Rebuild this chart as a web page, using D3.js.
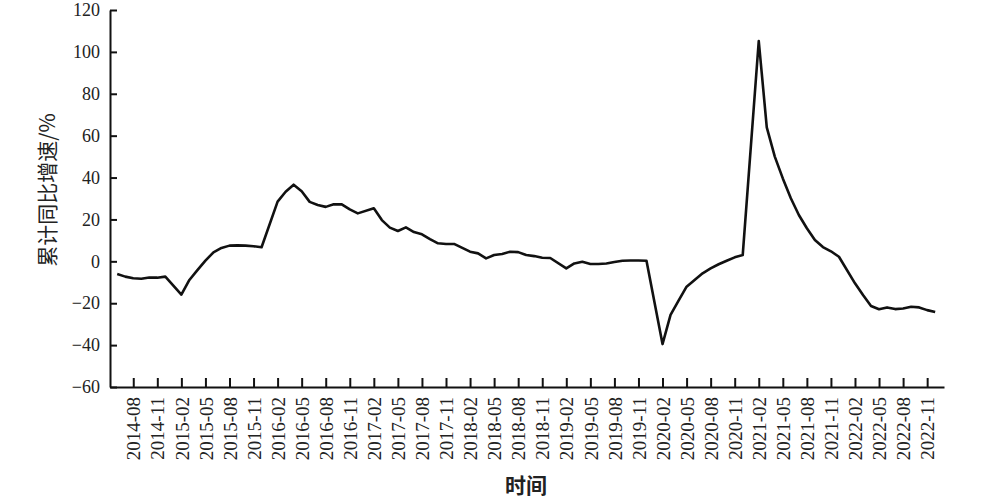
<!DOCTYPE html>
<html>
<head>
<meta charset="utf-8">
<script src="https://cdn.jsdelivr.net/npm/d3@7"></script>
<style>
  body { margin: 0; background: #fff; }
  svg { display: block; }
</style>
</head>
<body>
<svg width="987" height="499"></svg>
<script>
// months (January merged into February, so no Jan points)
var months = [
  '2014-06','2014-07','2014-08','2014-09','2014-10','2014-11','2014-12',
  '2015-02','2015-03','2015-04','2015-05','2015-06','2015-07','2015-08','2015-09','2015-10','2015-11','2015-12',
  '2016-02','2016-03','2016-04','2016-05','2016-06','2016-07','2016-08','2016-09','2016-10','2016-11','2016-12',
  '2017-02','2017-03','2017-04','2017-05','2017-06','2017-07','2017-08','2017-09','2017-10','2017-11','2017-12',
  '2018-02','2018-03','2018-04','2018-05','2018-06','2018-07','2018-08','2018-09','2018-10','2018-11','2018-12',
  '2019-02','2019-03','2019-04','2019-05','2019-06','2019-07','2019-08','2019-09','2019-10','2019-11','2019-12',
  '2020-02','2020-03','2020-04','2020-05','2020-06','2020-07','2020-08','2020-09','2020-10','2020-11','2020-12',
  '2021-02','2021-03','2021-04','2021-05','2021-06','2021-07','2021-08','2021-09','2021-10','2021-11','2021-12',
  '2022-02','2022-03','2022-04','2022-05','2022-06','2022-07','2022-08','2022-09','2022-10','2022-11','2022-12'
];

var growth = [
  -6.1, -7.3, -8.1, -8.3, -7.7, -7.8, -7.3,
  -15.9, -8.9, -4.2, 0.3, 4.3, 6.4, 7.5, 7.6, 7.5, 7.2, 6.7,
  28.5, 33.2, 36.6, 33.5, 28.4, 26.9, 26.0, 27.2, 27.2, 24.8, 22.9,
  25.3, 19.7, 16.1, 14.5, 16.2, 14.0, 12.9, 10.6, 8.6, 8.3, 8.3,
  4.6, 3.8, 1.4, 3.0, 3.5, 4.6, 4.4, 3.0, 2.5, 1.7, 1.6,
  -3.4, -1.0, -0.2, -1.3, -1.3, -1.0, -0.3, 0.3, 0.4, 0.4, 0.3,
  -39.5, -25.6, -18.8, -12.1, -8.9, -5.7, -3.4, -1.4, 0.3, 1.9, 3.0,
  105.2, 64.0, 50.0, 39.6, 30.1, 22.1, 15.8, 10.2, 6.8, 4.8, 2.2,
  -10.5, -16.1, -21.3, -22.9, -22.0, -22.8, -22.5, -21.7, -22.0, -23.3, -24.2
];

var xTickLabels = [
  '2014-08','2014-11','2015-02','2015-05','2015-08','2015-11',
  '2016-02','2016-05','2016-08','2016-11','2017-02','2017-05',
  '2017-08','2017-11','2018-02','2018-05','2018-08','2018-11',
  '2019-02','2019-05','2019-08','2019-11','2020-02','2020-05',
  '2020-08','2020-11','2021-02','2021-05','2021-08','2021-11',
  '2022-02','2022-05','2022-08','2022-11'
];

var yTicks = [-60, -40, -20, 0, 20, 40, 60, 80, 100, 120];

// month string -> month index counted from 2014-01
function monthIndex(s) {
  var p = s.split('-');
  return (+p[0] - 2014) * 12 + (+p[1] - 1);
}

var svg = d3.select('svg');

var plotLeft = 110, plotRight = 944, plotTop = 10, plotBottom = 387;

var x = d3.scaleLinear()
    .domain([4.1, 108.1])
    .range([plotLeft, plotRight]);

var y = d3.scaleLinear()
    .domain([-60, 120])
    .range([plotBottom, plotTop]);

var data = months.map(function(m, i) {
    return {t: monthIndex(m), v: growth[i]};
});

// y axis
var yAxis = svg.append('g')
    .attr('transform', 'translate(' + plotLeft + ',0)')
    .call(d3.axisLeft(y)
        .tickValues(yTicks)
        .tickSize(-7)
        .tickSizeOuter(0)
        .tickPadding(10));

// x axis
var xAxis = svg.append('g')
    .attr('transform', 'translate(0,' + plotBottom + ')')
    .call(d3.axisBottom(x)
        .tickValues(xTickLabels.map(monthIndex))
        .tickFormat(function(d, i) { return xTickLabels[i]; })
        .tickSize(-9)
        .tickSizeOuter(0));

svg.selectAll('.domain')
    .attr('stroke', '#111')
    .attr('stroke-width', 2);

svg.selectAll('.tick line')
    .attr('stroke', '#111')
    .attr('stroke-width', 2);

yAxis.selectAll('text')
    .attr('font-family', '"Liberation Serif", "DejaVu Serif", serif')
    .attr('font-size', 18)
    .attr('fill', '#222');

xAxis.selectAll('text')
    .attr('font-family', '"Liberation Serif", "DejaVu Serif", serif')
    .attr('font-size', 19)
    .attr('fill', '#222')
    .attr('transform', 'rotate(-90)')
    .attr('text-anchor', 'end')
    .attr('x', -10)
    .attr('y', 0)
    .attr('dy', '0.35em');

// line
var line = d3.line()
    .x(function(d) { return x(d.t); })
    .y(function(d) { return y(d.v); });

svg.append('path')
    .datum(data)
    .attr('d', line)
    .attr('fill', 'none')
    .attr('stroke', '#111')
    .attr('stroke-width', 2.6)
    .attr('stroke-linejoin', 'round');

// axis titles
svg.append('text')
    .attr('transform', 'translate(46,190) rotate(-90)')
    .attr('text-anchor', 'middle')
    .attr('dominant-baseline', 'central')
    .attr('font-family', '"Noto Sans CJK SC", sans-serif')
    .attr('font-size', 21)
    .attr('fill', '#222')
    .text('累计同比增速/%');

svg.append('text')
    .attr('x', 526)
    .attr('y', 484)
    .attr('text-anchor', 'middle')
    .attr('dominant-baseline', 'central')
    .attr('font-family', '"Noto Sans CJK SC", sans-serif')
    .attr('font-size', 21)
    .attr('font-weight', 'bold')
    .attr('fill', '#222')
    .text('时间');
</script>
</body>
</html>
